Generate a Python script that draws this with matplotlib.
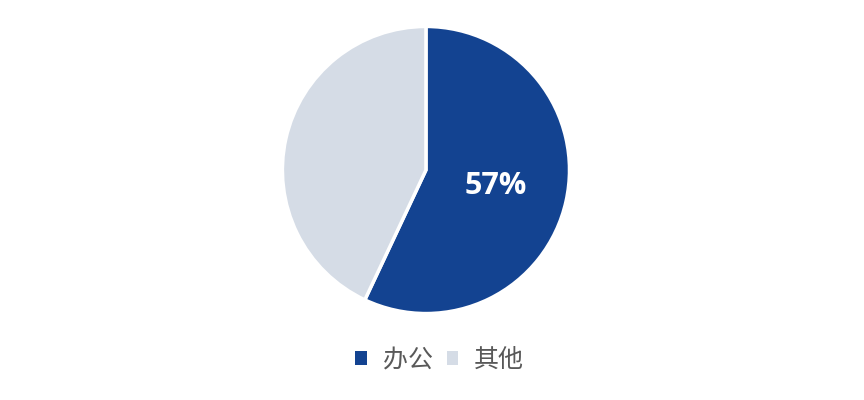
import matplotlib.pyplot as plt
from matplotlib.patches import Patch
import numpy as np

plt.rcParams['font.family'] = ['Noto Sans CJK SC', 'DejaVu Sans']

labels = ["办公", "其他"]
values = [57, 43]
colors = ["#134391", "#D5DCE6"]

fig = plt.figure(figsize=(8.64, 4.0), dpi=100)
ax = fig.add_axes([0.3252, 0.2125, 0.3356, 0.725])

wedges, texts = ax.pie(values, colors=colors, startangle=90, counterclock=False,
                       wedgeprops=dict(edgecolor="white", linewidth=2.5))
ax.set_aspect("equal")
ax.set_xlim(-1.01, 1.01)
ax.set_ylim(-1.01, 1.01)

# étiquette du pourcentage sur la part principale
w = wedges[0]
mid = np.deg2rad((w.theta1 + w.theta2) / 2)
ax.text(0.5 * np.cos(mid), 0.5 * np.sin(mid), f"{values[0]}%",
        ha="center", va="center", color="white", fontsize=22,
        fontweight="bold", family=["Open Sans", "DejaVu Sans"])

handles = [Patch(facecolor=c, edgecolor="none") for c in colors]
fig.legend(handles, labels, loc="center", bbox_to_anchor=(0.509, 0.1),
           ncol=2, frameon=False, fontsize=18, labelcolor="#595959",
           handlelength=0.45, handleheight=0.45, handletextpad=0.65,
           columnspacing=0.55)

fig.savefig("out.png", dpi=100)
